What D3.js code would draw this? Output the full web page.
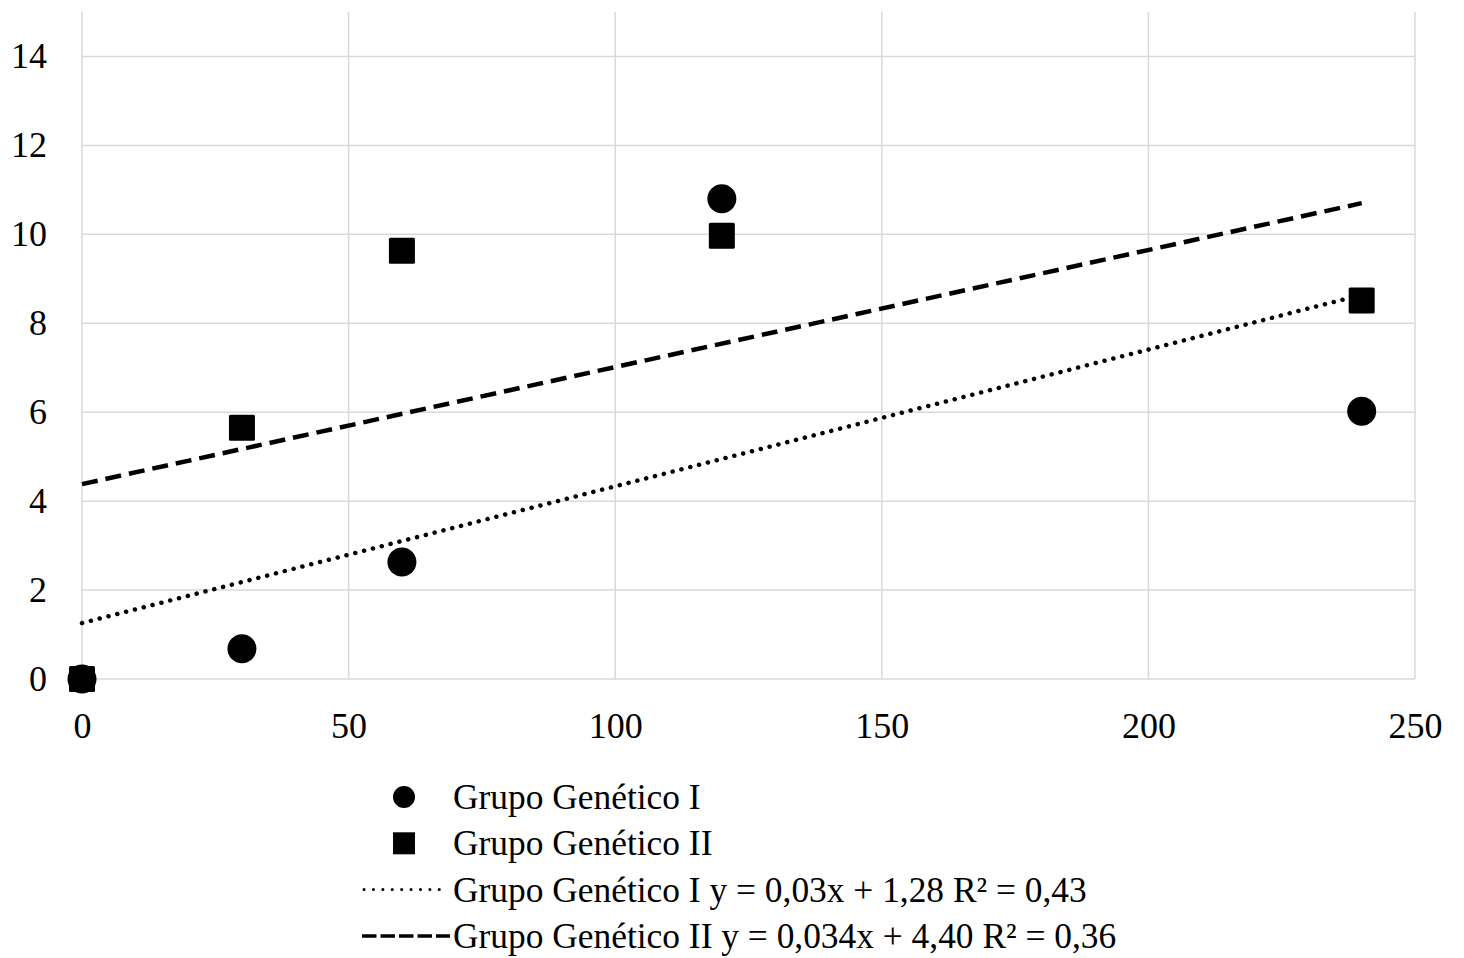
<!DOCTYPE html>
<html>
<head>
<meta charset="utf-8">
<script src="https://cdn.jsdelivr.net/npm/d3@7"></script>
<style>
  body { margin: 0; background: #fff; }
  svg text { font-family: "Liberation Serif", "Times New Roman", serif; fill: #000; }
</style>
</head>
<body>
<svg width="1464" height="958"></svg>
<script>
// data
const days = [0, 30, 60, 120, 240];
const grupoI = [0, 0.68, 2.63, 10.8, 6.02];
const grupoII = [0, 5.65, 9.63, 9.97, 8.51];
const xTicks = [0, 50, 100, 150, 200, 250];
const yTicks = [0, 2, 4, 6, 8, 10, 12, 14];
const legendLabels = [
  "Grupo Genético I",
  "Grupo Genético II",
  "Grupo Genético I y = 0,03x + 1,28 R² = 0,43",
  "Grupo Genético II y = 0,034x + 4,40 R² = 0,36"
];

const margin = { top: 12, right: 49, bottom: 279, left: 82 },
      width = 1464 - margin.left - margin.right,
      height = 958 - margin.top - margin.bottom;

const svg = d3.select("svg");
const g = svg.append("g")
  .attr("transform", `translate(${margin.left},${margin.top})`);

const x = d3.scaleLinear().domain([0, 250]).range([0, width]);
const y = d3.scaleLinear().domain([0, 15]).range([height, 0]);

// gridlines
g.append("g")
  .selectAll("line")
  .data(xTicks)
  .join("line")
  .attr("x1", d => x(d)).attr("x2", d => x(d))
  .attr("y1", 0).attr("y2", height)
  .attr("stroke", "#d9d9d9").attr("stroke-width", 1.5);

g.append("g")
  .selectAll("line")
  .data(yTicks)
  .join("line")
  .attr("x1", 0).attr("x2", width)
  .attr("y1", d => y(d)).attr("y2", d => y(d))
  .attr("stroke", "#d9d9d9").attr("stroke-width", 1.5);

// axes (labels only)
const yAxis = g.append("g")
  .call(d3.axisLeft(y).tickValues(yTicks).tickSize(0).tickPadding(35));
const xAxis = g.append("g")
  .attr("transform", `translate(0,${height})`)
  .call(d3.axisBottom(x).tickValues(xTicks).tickSize(0).tickPadding(33));
[xAxis, yAxis].forEach(a => {
  a.attr("font-family", null);
  a.select(".domain").remove();
  a.selectAll("text").attr("font-size", 36);
});

// linear trendlines (least squares)
function fit(xs, ys) {
  const mx = d3.mean(xs), my = d3.mean(ys);
  const sxy = d3.sum(xs, (v, i) => (v - mx) * (ys[i] - my));
  const sxx = d3.sum(xs, v => (v - mx) ** 2);
  const b = sxy / sxx;
  return { b, a: my - b * mx };
}

const line = d3.line().x(d => x(d[0])).y(d => y(d[1]));
const x0 = d3.min(days), x1 = d3.max(days);

const f1 = fit(days, grupoI);
g.append("path")
  .datum([[x0, f1.a + f1.b * x0], [x1, f1.a + f1.b * x1]])
  .attr("d", line)
  .attr("fill", "none").attr("stroke", "#000")
  .attr("stroke-width", 4.5).attr("stroke-linecap", "round")
  .attr("stroke-dasharray", "0.1,9");

const f2 = fit(days, grupoII);
g.append("path")
  .datum([[x0, f2.a + f2.b * x0], [x1, f2.a + f2.b * x1]])
  .attr("d", line)
  .attr("fill", "none").attr("stroke", "#000")
  .attr("stroke-width", 4.5)
  .attr("stroke-dasharray", "16,8");

// markers
g.append("g")
  .selectAll("circle")
  .data(days)
  .join("circle")
  .attr("cx", d => x(d))
  .attr("cy", (d, i) => y(grupoI[i]))
  .attr("r", 14.5)
  .attr("fill", "#000");

g.append("g")
  .selectAll("rect")
  .data(days)
  .join("rect")
  .attr("x", d => x(d) - 13)
  .attr("y", (d, i) => y(grupoII[i]) - 13)
  .attr("width", 26).attr("height", 26)
  .attr("rx", 1.5)
  .attr("fill", "#000");

// legend
const legend = svg.append("g").attr("transform", "translate(362,797)");
const rowH = 46.3;
legendLabels.forEach((label, i) => {
  const row = legend.append("g").attr("transform", `translate(0,${i * rowH})`);
  if (i === 0) {
    row.append("circle").attr("cx", 42).attr("cy", 0).attr("r", 11).attr("fill", "#000");
  } else if (i === 1) {
    row.append("rect").attr("x", 31).attr("y", -11).attr("width", 22).attr("height", 22).attr("fill", "#000");
  } else if (i === 2) {
    row.append("line").attr("x1", 2).attr("x2", 86).attr("y1", 0).attr("y2", 0)
      .attr("stroke", "#000").attr("stroke-width", 3)
      .attr("stroke-linecap", "round").attr("stroke-dasharray", "0.1,9.3");
  } else {
    row.append("line").attr("x1", 0).attr("x2", 88).attr("y1", 0).attr("y2", 0)
      .attr("stroke", "#000").attr("stroke-width", 3.5)
      .attr("stroke-dasharray", "14.5,4");
  }
  row.append("text")
    .attr("x", 91).attr("y", 12)
    .attr("font-size", 35.4)
    .text(label);
});
</script>
</body>
</html>
